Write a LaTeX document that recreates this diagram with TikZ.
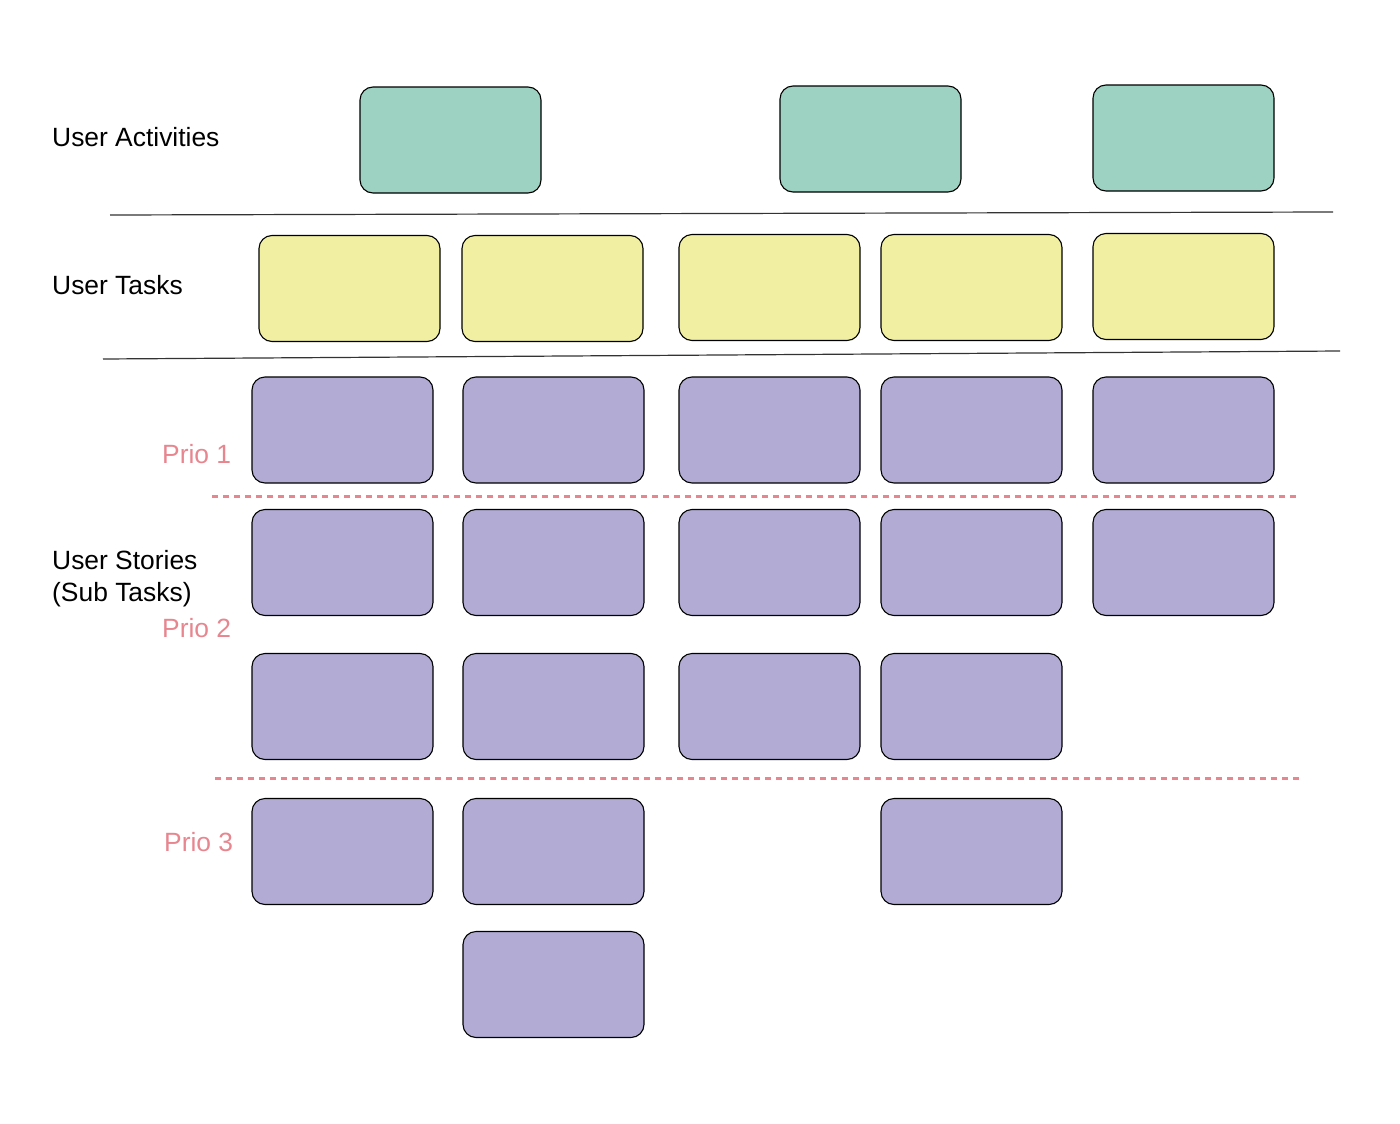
\documentclass[tikz,border=0pt]{standalone}
\usepackage{fontspec}
\setmainfont{Liberation Sans}
\begin{document}
\begin{tikzpicture}[x=1pt,y=-1pt,
  card/.style={draw=black, line width=1.1pt, rounded corners=13pt, minimum width=181pt, minimum height=106pt, inner sep=0pt},
  act/.style={card, fill=actc},
  task/.style={card, fill=taskc},
  story/.style={card, fill=storyc},
  lbl/.style={anchor=base west, inner sep=0pt, font=\fontsize{26.4}{31}\selectfont, text=black},
  prio/.style={anchor=base west, inner sep=0pt, font=\fontsize{26.4}{31}\selectfont, text=prioc},
  sep/.style={draw=black!80, line width=1.2pt},
  dsep/.style={draw=prioc, line width=3pt, dash pattern=on 6pt off 5pt}
]
\definecolor{actc}{HTML}{9DD1C1}
\definecolor{taskc}{HTML}{F0EFA2}
\definecolor{storyc}{HTML}{B2ACD4}
\definecolor{prioc}{HTML}{E8868F}
\useasboundingbox (0,0) rectangle (1400,1124);

% labels
\node[lbl] (lact) at (52,146) {User Activities};
\node[lbl] (ltask) at (52,294) {User Tasks};
\node[lbl] (lstory) at (52,569) {User Stories};
\node[lbl] (lsub) at (52,601) {(Sub Tasks)};
\node[prio] (p1) at (162,463) {Prio 1};
\node[prio] (p2) at (162,637) {Prio 2};
\node[prio] (p3) at (164,851) {Prio 3};

% activities
\node[act] (a1) at (450.5,140) {};
\node[act] (a2) at (870.5,139) {};
\node[act] (a3) at (1183.5,138) {};

% separator lines
\coordinate (s1a) at (110,215);
\coordinate (s1b) at (1333,212);
\draw[sep] (s1a) -- (s1b);
\coordinate (s2a) at (103,359);
\coordinate (s2b) at (1340,351);
\draw[sep] (s2a) -- (s2b);

% tasks
\node[task] (t1) at (349.5,288.5) {};
\node[task] (t2) at (552.5,288.5) {};
\node[task] (t3) at (769.5,287.5) {};
\node[task] (t4) at (971.5,287.5) {};
\node[task] (t5) at (1183.5,286.5) {};

% stories row 1
\node[story] (r1c1) at (342.5,430) {};
\node[story] (r1c2) at (553.5,430) {};
\node[story] (r1c3) at (769.5,430) {};
\node[story] (r1c4) at (971.5,430) {};
\node[story] (r1c5) at (1183.5,430) {};

% dashed line 1
\coordinate (d1a) at (212,496);
\coordinate (d1b) at (1300,496);
\draw[dsep] (d1a) -- (d1b);

% row 2
\node[story] (r2c1) at (342.5,562.5) {};
\node[story] (r2c2) at (553.5,562.5) {};
\node[story] (r2c3) at (769.5,562.5) {};
\node[story] (r2c4) at (971.5,562.5) {};
\node[story] (r2c5) at (1183.5,562.5) {};

% row 3
\node[story] (r3c1) at (342.5,706.5) {};
\node[story] (r3c2) at (553.5,706.5) {};
\node[story] (r3c3) at (769.5,706.5) {};
\node[story] (r3c4) at (971.5,706.5) {};

% dashed line 2
\coordinate (d2a) at (215,778);
\coordinate (d2b) at (1302,778);
\draw[dsep] (d2a) -- (d2b);

% row 4
\node[story] (r4c1) at (342.5,851.5) {};
\node[story] (r4c2) at (553.5,851.5) {};
\node[story] (r4c4) at (971.5,851.5) {};

% row 5
\node[story] (r5c2) at (553.5,984.5) {};
\end{tikzpicture}
\end{document}
